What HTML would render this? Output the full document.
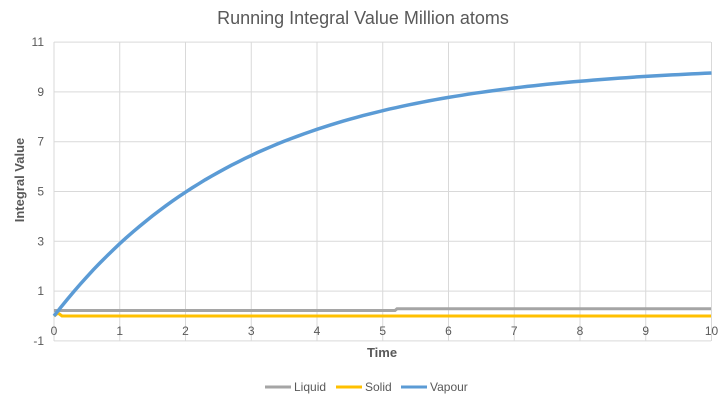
<!DOCTYPE html><html><head><style>body{margin:0;background:#fff}svg{display:block;font-family:"Liberation Sans",sans-serif}</style></head><body>
<svg id="s" width="727" height="402" xmlns="http://www.w3.org/2000/svg">
<rect width="727" height="402" fill="#fff"/>
<text x="363" y="24" text-anchor="middle" font-size="18" fill="#595959">Running Integral Value Million atoms</text>
<g id="grid" stroke="#d9d9d9" stroke-width="1"></g>
<g id="lab" font-size="12" fill="#595959"></g>
<text x="382" y="357" text-anchor="middle" font-size="13" font-weight="bold" fill="#595959">Time</text>
<text transform="translate(24,180) rotate(-90)" text-anchor="middle" font-size="13" font-weight="bold" fill="#595959">Integral Value</text>
<polyline points="54,310.5 395,310.5 397,308.8 711,308.8" fill="none" stroke="#a5a5a5" stroke-width="3"/>
<polyline points="54,316 58,313 62,316 711,316" fill="none" stroke="#ffc000" stroke-width="3"/>
<path id="v" fill="none" stroke="#5b9bd5" stroke-width="3.5"/>
<g font-size="12" fill="#595959">
<line x1="265" y1="387" x2="291" y2="387" stroke="#a5a5a5" stroke-width="3"/><text x="294" y="391">Liquid</text>
<line x1="336" y1="387" x2="362" y2="387" stroke="#ffc000" stroke-width="3"/><text x="365" y="391">Solid</text>
<line x1="401" y1="387" x2="427" y2="387" stroke="#5b9bd5" stroke-width="3"/><text x="430" y="391">Vapour</text>
</g>
</svg>
<script>
var X=t=>54+t*65.75,Y=v=>316-v*24.9,g=document.getElementById('grid'),l=document.getElementById('lab'),h='',k='';
for(var v=-1;v<=11;v+=2){h+='<line x1="54" x2="711" y1="'+Y(v)+'" y2="'+Y(v)+'"/>';k+='<text x="44" y="'+(Y(v)+4)+'" text-anchor="end">'+v+'</text>';}
for(var t=0;t<=10;t++){h+='<line y1="42" y2="341" x1="'+X(t)+'" x2="'+X(t)+'"/>';k+='<text x="'+X(t)+'" y="335" text-anchor="middle">'+t+'</text>';}
g.innerHTML=h;l.innerHTML=k;
var d='';for(var t=0;t<=10.001;t+=0.1){d+=(t?'L':'M')+X(t).toFixed(1)+','+Y(10.1*(1-Math.exp(-t/2.95))).toFixed(1);}
document.getElementById('v').setAttribute('d',d);
</script>
</body></html>
